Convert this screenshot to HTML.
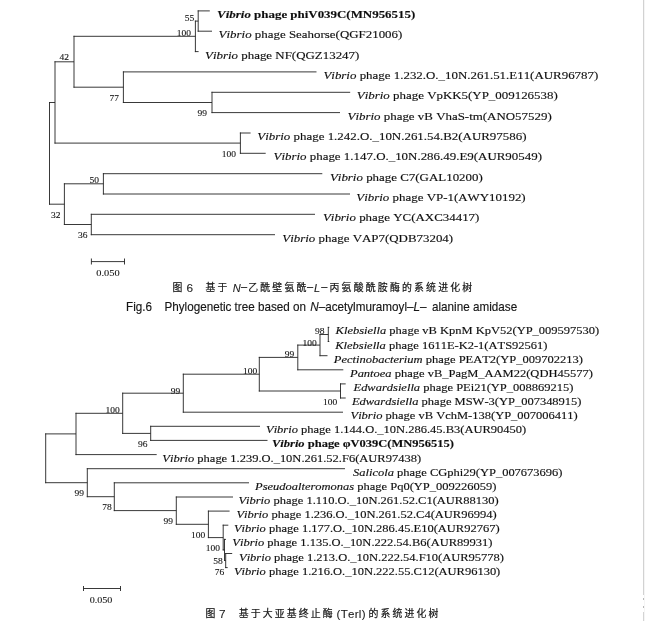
<!DOCTYPE html>
<html lang="zh">
<head>
<meta charset="utf-8">
<title>Fig.6 / Fig.7 Phylogenetic trees</title>
<style>
html,body{margin:0;padding:0;background:#fff;}
body{width:645px;height:621px;position:relative;overflow:hidden;}
svg{position:absolute;left:0;top:0;display:block;}
svg text{font-family:"Liberation Serif",serif;fill:#111;font-kerning:none;stroke:#111;stroke-width:0.16px;}
svg text.n{stroke-width:0.1px;}
svg text.zh{font-family:"Liberation Sans","Noto Sans CJK SC",sans-serif;fill:#151515;stroke:#151515;stroke-width:0.2px;}
svg text.zl{font-family:"Liberation Sans",sans-serif;fill:#1a1a1a;stroke:#1a1a1a;stroke-width:0.1px;}
svg text.en{font-family:"Liberation Sans",sans-serif;fill:#151515;stroke:#151515;stroke-width:0.15px;}
.edge{position:absolute;left:643px;top:0;width:1px;height:595px;background:#d2d2d2;}
.edge3{position:absolute;left:643px;top:612px;width:1px;height:9px;background:#d4d4d4;}
.dot{position:absolute;left:643px;width:1px;height:2px;background:#b8b8b8;}
.edge2{position:absolute;left:644px;top:0;width:1px;height:621px;background:#f5f5f5;}
</style>
</head>
<body>
<svg width="645" height="621" viewBox="0 0 645 621">
<defs><filter id="soft" x="-2%" y="-2%" width="104%" height="104%"><feGaussianBlur stdDeviation="0.3"/></filter></defs>
<g stroke="#222" stroke-width="0.9" fill="none">
<line x1="198.2" y1="10.4" x2="198.2" y2="31.7"/>
<line x1="197.7" y1="10.9" x2="209.8" y2="10.9"/>
<line x1="197.7" y1="31.2" x2="212.0" y2="31.2"/>
<line x1="195.4" y1="20.6" x2="195.4" y2="52.1"/>
<line x1="194.9" y1="21.1" x2="198.2" y2="21.1"/>
<line x1="194.9" y1="51.6" x2="198.6" y2="51.6"/>
<line x1="212.0" y1="91.8" x2="212.0" y2="113.1"/>
<line x1="211.5" y1="92.3" x2="350.2" y2="92.3"/>
<line x1="211.5" y1="112.6" x2="340.0" y2="112.6"/>
<line x1="123.4" y1="71.4" x2="123.4" y2="103.0"/>
<line x1="122.9" y1="71.9" x2="316.5" y2="71.9"/>
<line x1="122.9" y1="102.5" x2="212.0" y2="102.5"/>
<line x1="74.0" y1="35.8" x2="74.0" y2="87.7"/>
<line x1="73.5" y1="36.3" x2="195.4" y2="36.3"/>
<line x1="73.5" y1="87.2" x2="123.4" y2="87.2"/>
<line x1="240.4" y1="132.5" x2="240.4" y2="153.8"/>
<line x1="239.9" y1="133.0" x2="250.6" y2="133.0"/>
<line x1="239.9" y1="153.3" x2="265.7" y2="153.3"/>
<line x1="55.0" y1="61.3" x2="55.0" y2="143.6"/>
<line x1="54.5" y1="61.8" x2="74.0" y2="61.8"/>
<line x1="54.5" y1="143.1" x2="240.4" y2="143.1"/>
<line x1="103.4" y1="173.2" x2="103.4" y2="194.5"/>
<line x1="102.9" y1="173.7" x2="322.3" y2="173.7"/>
<line x1="102.9" y1="194.0" x2="350.0" y2="194.0"/>
<line x1="91.3" y1="213.8" x2="91.3" y2="235.2"/>
<line x1="90.8" y1="214.3" x2="315.0" y2="214.3"/>
<line x1="90.8" y1="234.7" x2="275.0" y2="234.7"/>
<line x1="64.4" y1="183.3" x2="64.4" y2="225.0"/>
<line x1="63.9" y1="183.8" x2="103.4" y2="183.8"/>
<line x1="63.9" y1="224.5" x2="91.3" y2="224.5"/>
<line x1="49.5" y1="102.0" x2="49.5" y2="204.7"/>
<line x1="49.0" y1="102.5" x2="55.0" y2="102.5"/>
<line x1="49.0" y1="204.2" x2="64.4" y2="204.2"/>
<line x1="91.3" y1="261.6" x2="124.6" y2="261.6"/>
<line x1="91.4" y1="258.5" x2="91.4" y2="264.5"/>
<line x1="124.5" y1="258.5" x2="124.5" y2="264.5"/>
<line x1="328.3" y1="326.9" x2="328.3" y2="342.0"/>
<line x1="327.8" y1="327.4" x2="329.3" y2="327.4"/>
<line x1="327.8" y1="341.5" x2="329.3" y2="341.5"/>
<line x1="320.0" y1="334.0" x2="320.0" y2="356.2"/>
<line x1="319.5" y1="334.5" x2="328.3" y2="334.5"/>
<line x1="319.5" y1="355.7" x2="327.5" y2="355.7"/>
<line x1="297.8" y1="344.6" x2="297.8" y2="370.3"/>
<line x1="297.3" y1="345.1" x2="320.0" y2="345.1"/>
<line x1="297.3" y1="369.8" x2="343.3" y2="369.8"/>
<line x1="340.5" y1="383.4" x2="340.5" y2="398.5"/>
<line x1="340.0" y1="383.9" x2="345.7" y2="383.9"/>
<line x1="340.0" y1="398.0" x2="345.7" y2="398.0"/>
<line x1="259.3" y1="356.9" x2="259.3" y2="391.5"/>
<line x1="258.8" y1="357.4" x2="297.8" y2="357.4"/>
<line x1="258.8" y1="391.0" x2="340.5" y2="391.0"/>
<line x1="183.3" y1="373.7" x2="183.3" y2="412.7"/>
<line x1="182.8" y1="374.2" x2="259.3" y2="374.2"/>
<line x1="182.8" y1="412.2" x2="343.0" y2="412.2"/>
<line x1="150.7" y1="425.8" x2="150.7" y2="440.9"/>
<line x1="150.2" y1="426.3" x2="260.0" y2="426.3"/>
<line x1="150.2" y1="440.4" x2="267.5" y2="440.4"/>
<line x1="122.7" y1="392.7" x2="122.7" y2="433.9"/>
<line x1="122.2" y1="393.2" x2="183.3" y2="393.2"/>
<line x1="122.2" y1="433.4" x2="150.7" y2="433.4"/>
<line x1="76.0" y1="412.8" x2="76.0" y2="455.1"/>
<line x1="75.5" y1="413.3" x2="122.7" y2="413.3"/>
<line x1="75.5" y1="454.6" x2="156.7" y2="454.6"/>
<line x1="225.7" y1="553.0" x2="225.7" y2="568.1"/>
<line x1="225.2" y1="553.5" x2="232.2" y2="553.5"/>
<line x1="225.2" y1="567.6" x2="227.7" y2="567.6"/>
<line x1="224.5" y1="538.9" x2="224.5" y2="561.0"/>
<line x1="224.0" y1="539.4" x2="226.0" y2="539.4"/>
<line x1="224.0" y1="560.5" x2="225.7" y2="560.5"/>
<line x1="223.2" y1="524.7" x2="223.2" y2="550.4"/>
<line x1="222.7" y1="525.2" x2="228.3" y2="525.2"/>
<line x1="222.7" y1="549.9" x2="224.5" y2="549.9"/>
<line x1="208.4" y1="510.6" x2="208.4" y2="538.1"/>
<line x1="207.9" y1="511.1" x2="229.6" y2="511.1"/>
<line x1="207.9" y1="537.6" x2="223.2" y2="537.6"/>
<line x1="176.3" y1="496.5" x2="176.3" y2="524.8"/>
<line x1="175.8" y1="497.0" x2="233.0" y2="497.0"/>
<line x1="175.8" y1="524.3" x2="208.4" y2="524.3"/>
<line x1="114.3" y1="482.3" x2="114.3" y2="511.1"/>
<line x1="113.8" y1="482.8" x2="249.0" y2="482.8"/>
<line x1="113.8" y1="510.6" x2="176.3" y2="510.6"/>
<line x1="87.3" y1="468.2" x2="87.3" y2="497.2"/>
<line x1="86.8" y1="468.7" x2="345.0" y2="468.7"/>
<line x1="86.8" y1="496.7" x2="114.3" y2="496.7"/>
<line x1="45.7" y1="433.4" x2="45.7" y2="483.2"/>
<line x1="45.2" y1="433.9" x2="76.0" y2="433.9"/>
<line x1="45.2" y1="482.7" x2="87.3" y2="482.7"/>
<line x1="83.4" y1="588.5" x2="120.7" y2="588.5"/>
<line x1="83.5" y1="586.0" x2="83.5" y2="591.0"/>
<line x1="120.5" y1="586.0" x2="120.5" y2="591.0"/>
</g>
<g filter="url(#soft)">
<text transform="translate(217.1,17.8) scale(1,0.87)" font-size="12.93" font-weight="bold"><tspan font-style="italic">Vibrio</tspan> phage phiV039C(MN956515)</text>
<text transform="translate(218.6,38.1) scale(1,0.87)" font-size="12.93"><tspan font-style="italic">Vibrio</tspan> phage Seahorse(QGF21006)</text>
<text transform="translate(205.0,58.5) scale(1,0.87)" font-size="12.93"><tspan font-style="italic">Vibrio</tspan> phage NF(QGZ13247)</text>
<text transform="translate(323.4,78.8) scale(1,0.87)" font-size="12.93"><tspan font-style="italic">Vibrio</tspan> phage 1.232.O._10N.261.51.E11(AUR96787)</text>
<text transform="translate(356.8,99.2) scale(1,0.87)" font-size="12.93"><tspan font-style="italic">Vibrio</tspan> phage VpKK5(YP_009126538)</text>
<text transform="translate(347.5,119.5) scale(1,0.87)" font-size="12.93"><tspan font-style="italic">Vibrio</tspan> phage vB VhaS-tm(ANO57529)</text>
<text transform="translate(257.3,139.9) scale(1,0.87)" font-size="12.93"><tspan font-style="italic">Vibrio</tspan> phage 1.242.O._10N.261.54.B2(AUR97586)</text>
<text transform="translate(273.5,160.2) scale(1,0.87)" font-size="12.93"><tspan font-style="italic">Vibrio</tspan> phage 1.147.O._10N.286.49.E9(AUR90549)</text>
<text transform="translate(329.9,180.6) scale(1,0.87)" font-size="12.93"><tspan font-style="italic">Vibrio</tspan> phage C7(GAL10200)</text>
<text transform="translate(356.3,200.9) scale(1,0.87)" font-size="12.93"><tspan font-style="italic">Vibrio</tspan> phage VP-1(AWY10192)</text>
<text transform="translate(322.9,221.2) scale(1,0.87)" font-size="12.93"><tspan font-style="italic">Vibrio</tspan> phage YC(AXC34417)</text>
<text transform="translate(282.3,241.6) scale(1,0.87)" font-size="12.93"><tspan font-style="italic">Vibrio</tspan> phage VAP7(QDB73204)</text>
<text class="n" transform="translate(194.3,21.3) scale(1,0.97)" font-size="9.5" text-anchor="end">55</text>
<text class="n" transform="translate(190.9,35.9) scale(1,0.97)" font-size="9.5" text-anchor="end">100</text>
<text class="n" transform="translate(68.9,60.2) scale(1,0.97)" font-size="9.5" text-anchor="end">42</text>
<text class="n" transform="translate(119.0,101.4) scale(1,0.97)" font-size="9.5" text-anchor="end">77</text>
<text class="n" transform="translate(207.0,116.0) scale(1,0.97)" font-size="9.5" text-anchor="end">99</text>
<text class="n" transform="translate(236.1,157.4) scale(1,0.97)" font-size="9.5" text-anchor="end">100</text>
<text class="n" transform="translate(99.0,183.1) scale(1,0.97)" font-size="9.5" text-anchor="end">50</text>
<text class="n" transform="translate(60.5,218.0) scale(1,0.97)" font-size="9.5" text-anchor="end">32</text>
<text class="n" transform="translate(87.5,237.9) scale(1,0.97)" font-size="9.5" text-anchor="end">36</text>
<text class="n" transform="translate(107.9,275.8) scale(1,0.88)" font-size="10.4" text-anchor="middle">0.050</text>
<text transform="translate(335.6,334.4) scale(1,0.87)" font-size="12.5"><tspan font-style="italic">Klebsiella</tspan> phage vB KpnM KpV52(YP_009597530)</text>
<text transform="translate(335.2,348.5) scale(1,0.87)" font-size="12.5"><tspan font-style="italic">Klebsiella</tspan> phage 1611E-K2-1(ATS92561)</text>
<text transform="translate(333.8,362.7) scale(1,0.87)" font-size="12.5"><tspan font-style="italic">Pectinobacterium</tspan> phage PEAT2(YP_009702213)</text>
<text transform="translate(350.0,376.8) scale(1,0.87)" font-size="12.5"><tspan font-style="italic">Pantoea</tspan> phage vB_PagM_AAM22(QDH45577)</text>
<text transform="translate(353.5,390.9) scale(1,0.87)" font-size="12.5"><tspan font-style="italic">Edwardsiella</tspan> phage PEi21(YP_008869215)</text>
<text transform="translate(351.9,405.0) scale(1,0.87)" font-size="12.5"><tspan font-style="italic">Edwardsiella</tspan> phage MSW-3(YP_007348915)</text>
<text transform="translate(350.5,419.2) scale(1,0.87)" font-size="12.5"><tspan font-style="italic">Vibrio</tspan> phage vB VchM-138(YP_007006411)</text>
<text transform="translate(266.0,433.3) scale(1,0.87)" font-size="12.5"><tspan font-style="italic">Vibrio</tspan> phage 1.144.O._10N.286.45.B3(AUR90450)</text>
<text transform="translate(272.0,447.4) scale(1,0.87)" font-size="12.5" font-weight="bold"><tspan font-style="italic">Vibrio</tspan> phage φV039C(MN956515)</text>
<text transform="translate(162.3,461.6) scale(1,0.87)" font-size="12.5"><tspan font-style="italic">Vibrio</tspan> phage 1.239.O._10N.261.52.F6(AUR97438)</text>
<text transform="translate(353.0,475.7) scale(1,0.87)" font-size="12.5"><tspan font-style="italic">Salicola</tspan> phage CGphi29(YP_007673696)</text>
<text transform="translate(255.0,489.8) scale(1,0.87)" font-size="12.5"><tspan font-style="italic">Pseudoalteromonas</tspan> phage Pq0(YP_009226059)</text>
<text transform="translate(238.4,504.0) scale(1,0.87)" font-size="12.5"><tspan font-style="italic">Vibrio</tspan> phage 1.110.O._10N.261.52.C1(AUR88130)</text>
<text transform="translate(236.4,518.1) scale(1,0.87)" font-size="12.5"><tspan font-style="italic">Vibrio</tspan> phage 1.236.O._10N.261.52.C4(AUR96994)</text>
<text transform="translate(233.9,532.2) scale(1,0.87)" font-size="12.5"><tspan font-style="italic">Vibrio</tspan> phage 1.177.O._10N.286.45.E10(AUR92767)</text>
<text transform="translate(232.3,546.4) scale(1,0.87)" font-size="12.5"><tspan font-style="italic">Vibrio</tspan> phage 1.135.O._10N.222.54.B6(AUR89931)</text>
<text transform="translate(239.0,560.5) scale(1,0.87)" font-size="12.5"><tspan font-style="italic">Vibrio</tspan> phage 1.213.O._10N.222.54.F10(AUR95778)</text>
<text transform="translate(233.9,574.6) scale(1,0.87)" font-size="12.5"><tspan font-style="italic">Vibrio</tspan> phage 1.216.O._10N.222.55.C12(AUR96130)</text>
<text class="n" transform="translate(324.5,333.9) scale(1,0.97)" font-size="9.5" text-anchor="end">98</text>
<text class="n" transform="translate(316.7,345.9) scale(1,0.97)" font-size="9.5" text-anchor="end">100</text>
<text class="n" transform="translate(294.3,357.4) scale(1,0.97)" font-size="9.5" text-anchor="end">99</text>
<text class="n" transform="translate(257.2,374.4) scale(1,0.97)" font-size="9.5" text-anchor="end">100</text>
<text class="n" transform="translate(337.2,404.9) scale(1,0.97)" font-size="9.5" text-anchor="end">100</text>
<text class="n" transform="translate(180.3,393.9) scale(1,0.97)" font-size="9.5" text-anchor="end">99</text>
<text class="n" transform="translate(119.8,412.9) scale(1,0.97)" font-size="9.5" text-anchor="end">100</text>
<text class="n" transform="translate(147.5,446.9) scale(1,0.97)" font-size="9.5" text-anchor="end">96</text>
<text class="n" transform="translate(84.0,495.9) scale(1,0.97)" font-size="9.5" text-anchor="end">99</text>
<text class="n" transform="translate(111.7,509.7) scale(1,0.97)" font-size="9.5" text-anchor="end">78</text>
<text class="n" transform="translate(173.0,523.6) scale(1,0.97)" font-size="9.5" text-anchor="end">99</text>
<text class="n" transform="translate(205.3,537.9) scale(1,0.97)" font-size="9.5" text-anchor="end">100</text>
<text class="n" transform="translate(220.1,551.4) scale(1,0.97)" font-size="9.5" text-anchor="end">100</text>
<text class="n" transform="translate(222.7,564.1) scale(1,0.97)" font-size="9.5" text-anchor="end">58</text>
<text class="n" transform="translate(224.2,575.0) scale(1,0.97)" font-size="9.5" text-anchor="end">76</text>
<text class="n" transform="translate(101.0,603.0) scale(1,0.88)" font-size="10.1" text-anchor="middle" fill="#333" stroke="none">0.050</text>
<text class="zh" transform="translate(172.4,291.2) scale(1.0,1)" font-size="9.9" letter-spacing="2.20">图</text>
<text class="zl" transform="translate(186.6,291.8) scale(1,1)" font-size="11.8">6</text>
<text class="zh" transform="translate(205.5,291.2) scale(1.0,1)" font-size="9.9" letter-spacing="2.20">基于</text>
<text class="zl" transform="translate(232.8,291.6) scale(1,1)" font-size="11" letter-spacing="0.3"><tspan font-style="italic">N</tspan><tspan dy="-1.6">–</tspan></text>
<text class="zh" transform="translate(248.2,291.2) scale(1.0,1)" font-size="9.9" letter-spacing="2.20">乙酰壁氨酰</text>
<text class="zl" transform="translate(306.9,291.6) scale(1,1)" font-size="11" letter-spacing="1.1"><tspan dy="-1.6">–</tspan><tspan dy="1.6" font-style="italic">L</tspan><tspan dy="-1.6">–</tspan></text>
<text class="zh" transform="translate(329.5,291.2) scale(1.0,1)" font-size="9.9" letter-spacing="2.20">丙氨酸酰胺酶的系统进化树</text>
<text class="en" transform="translate(126.0,310.8) scale(0.886,1)" font-size="13.2">Fig.6</text>
<text class="en" transform="translate(164.4,310.8) scale(0.886,1)" font-size="13.2">Phylogenetic tree based on</text>
<text class="en" transform="translate(310.2,310.8) scale(0.886,1)" font-size="13.2"><tspan font-style="italic">N</tspan>–acetylmuramoyl–<tspan font-style="italic">L</tspan>–</text>
<text class="en" transform="translate(432.0,310.8) scale(0.886,1)" font-size="13.2">alanine amidase</text>
<text class="zh" transform="translate(205.6,617.2) scale(1.0,1)" font-size="9.9" letter-spacing="2.20">图</text>
<text class="zl" transform="translate(219.0,617.7) scale(1,1)" font-size="11.8">7</text>
<text class="zh" transform="translate(238.8,617.2) scale(1.0,1)" font-size="9.9" letter-spacing="2.10">基于大亚基终止酶</text>
<text class="zl" transform="translate(336.5,617.5) scale(1,1)" font-size="11.5" letter-spacing="0.3">(Terl)</text>
<text class="zh" transform="translate(368.5,617.2) scale(1.0,1)" font-size="9.9" letter-spacing="2.10">的系统进化树</text>
</g>
</svg>
<div class="edge"></div><div class="edge2"></div><div class="edge3"></div><div class="dot" style="top:598px"></div><div class="dot" style="top:606px"></div>
</body>
</html>
